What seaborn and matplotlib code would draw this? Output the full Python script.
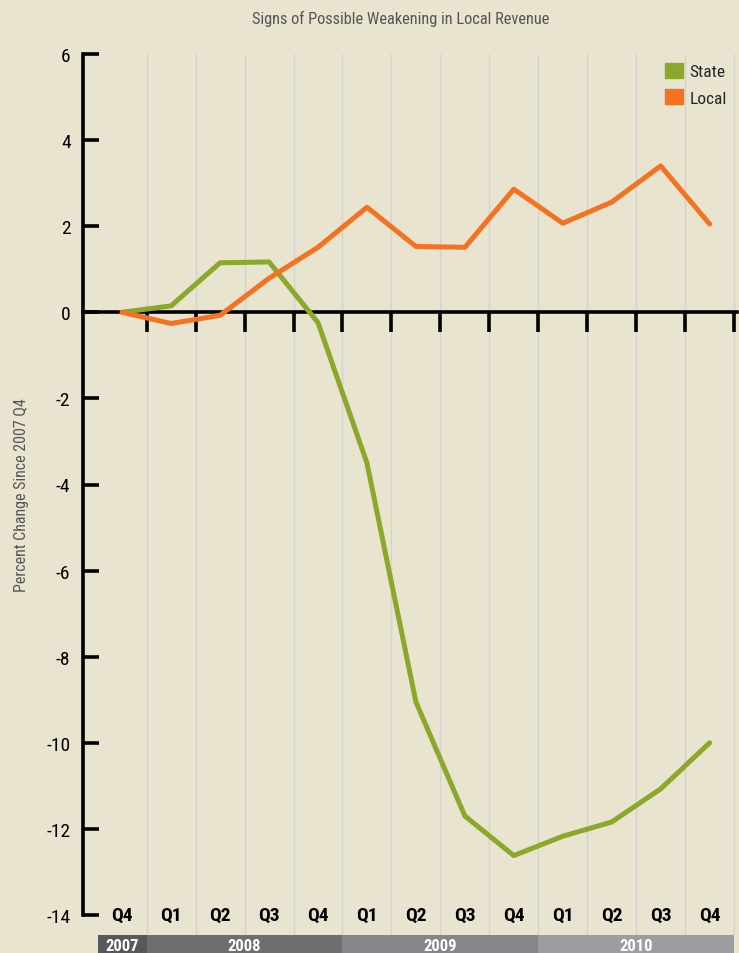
import numpy as np
import pandas as pd
import seaborn as sns
import matplotlib.pyplot as plt
from matplotlib.patches import Patch

# data
quarters = ["Q4", "Q1", "Q2", "Q3", "Q4", "Q1", "Q2", "Q3", "Q4", "Q1", "Q2", "Q3", "Q4"]
state = [0.0, 0.15, 1.15, 1.17, -0.24, -3.5, -9.05, -11.7, -12.62, -12.17, -11.84, -11.07, -10.0]
local = [0.0, -0.26, -0.07, 0.79, 1.51, 2.44, 1.53, 1.51, 2.86, 2.07, 2.56, 3.4, 2.05]
years = ["2007", "2008", "2009", "2010"]
year_spans = [(-0.5, 0.5), (0.5, 4.5), (4.5, 8.5), (8.5, 12.5)]
year_colors = ["#58585a", "#6d6e70", "#858689", "#9c9da0"]

bg = "#e9e4d0"
green = "#8aa829"
orange = "#f47321"

sns.set_style("white")
plt.rcParams['font.family'] = ['Roboto Condensed', 'Roboto', 'DejaVu Sans']

n = len(quarters)
df = pd.DataFrame({
    "idx": list(range(n)) * 2,
    "value": state + local,
    "series": ["State"] * n + ["Local"] * n,
})

fig = plt.figure(figsize=(7.39, 9.54), dpi=100)
fig.patch.set_facecolor(bg)

# main axes: 6 sits at y=55px, -14 at 916px, axes reach down to 936px
W, H = 739, 954
ppu = (916 - 55) / 20.0
ymin = -14 - (936 - 916) / ppu
ax = fig.add_axes([83 / W, 1 - 936 / H, (739 - 83) / W, (936 - 55) / H])
ax.set_facecolor(bg)
ax.set_xlim(-0.8, 12.6)
ax.set_ylim(ymin, 6)

# light vertical gridlines between quarters
mids = np.arange(0.5, 13, 1.0)
ax.vlines(mids, ymin, 6, color="#d3d2cc", lw=1, zorder=0)

sns.lineplot(data=df, x="idx", y="value", hue="series",
             palette={"State": green, "Local": orange},
             lw=3.6, ax=ax, legend=False, zorder=3)

# spines
for s in ["top", "right"]:
    ax.spines[s].set_visible(False)
ax.spines["left"].set_bounds(-14, 6)
ax.spines["left"].set_linewidth(2.6)
ax.spines["left"].set_color("black")
ax.spines["bottom"].set_position(("data", 0))
ax.spines["bottom"].set_linewidth(2.6)
ax.spines["bottom"].set_color("black")
ax.spines["bottom"].set_bounds(-0.8, 12.55)

ax.set_yticks(np.arange(-14, 7, 2))
ax.set_yticklabels([str(v) for v in range(-14, 7, 2)], fontsize=14)
ax.tick_params(axis="y", left=True, direction="in", length=11.5, width=2.6, pad=9, colors="black")
ax.set_xticks(mids)
ax.set_xticklabels([])
ax.tick_params(axis="x", bottom=True, direction="out", length=14.5, width=2.6, colors="black")

ax.set_xlabel("")
ax.set_ylabel("Percent Change Since 2007 Q4", fontsize=11.5, color="#555555")
ax.yaxis.set_label_coords(-54 / 656, 0.5)

# quarter labels along the bottom
for i, q in enumerate(quarters):
    ax.text(i, -14, q, ha="center", va="center", fontsize=14, fontweight="bold", color="black")

# legend
handles = [Patch(color=green, label="State"), Patch(color=orange, label="Local")]
ax.legend(handles=handles, loc="upper right", frameon=False, fontsize=12.5,
          handlelength=1.0, handleheight=1.0, handletextpad=0.4,
          labelspacing=0.55, borderaxespad=0.1, bbox_to_anchor=(0.995, 1.0))

# year bands under the chart
bax = fig.add_axes([83 / W, 0, (739 - 83) / W, (954 - 936) / H])
bax.set_xlim(ax.get_xlim())
bax.set_ylim(0, 1)
bax.axis("off")
for yr, (a, b), c in zip(years, year_spans, year_colors):
    bax.axvspan(a, b, color=c, lw=0)
    bax.text((a + b) / 2, 0.4, yr, ha="center", va="center", color="white",
             fontsize=12, fontweight="bold")

fig.text(401 / W, 1 - 19 / H, "Signs of Possible Weakening in Local Revenue",
         ha="center", va="center", fontsize=11.8, color="#555555")

fig.savefig("out.png", dpi=100, facecolor=bg)
